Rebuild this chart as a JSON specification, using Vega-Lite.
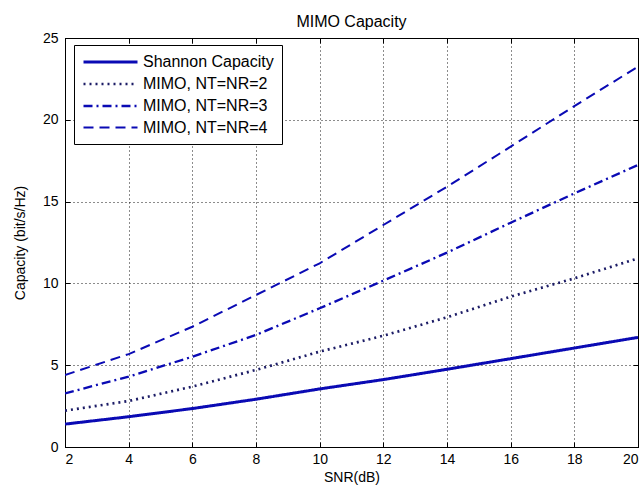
{
  "$schema": "https://vega.github.io/schema/vega-lite/v6.json",
  "autosize": "none",
  "width": 573,
  "height": 409,
  "padding": {"left": 65, "top": 38, "right": 6, "bottom": 42},
  "background": "white",
  "title": {"text": "MIMO Capacity", "font": "Liberation Sans", "fontSize": 16, "fontWeight": "normal", "color": "#000000", "offset": 1},
  "data": {
    "values": [
      {"snr": 2, "cap": 1.40, "series": "Shannon Capacity"},
      {"snr": 4, "cap": 1.85, "series": "Shannon Capacity"},
      {"snr": 6, "cap": 2.35, "series": "Shannon Capacity"},
      {"snr": 8, "cap": 2.92, "series": "Shannon Capacity"},
      {"snr": 10, "cap": 3.55, "series": "Shannon Capacity"},
      {"snr": 12, "cap": 4.12, "series": "Shannon Capacity"},
      {"snr": 14, "cap": 4.75, "series": "Shannon Capacity"},
      {"snr": 16, "cap": 5.40, "series": "Shannon Capacity"},
      {"snr": 18, "cap": 6.05, "series": "Shannon Capacity"},
      {"snr": 20, "cap": 6.70, "series": "Shannon Capacity"},
      {"snr": 2, "cap": 2.22, "series": "MIMO, NT=NR=2"},
      {"snr": 4, "cap": 2.81, "series": "MIMO, NT=NR=2"},
      {"snr": 6, "cap": 3.69, "series": "MIMO, NT=NR=2"},
      {"snr": 8, "cap": 4.71, "series": "MIMO, NT=NR=2"},
      {"snr": 10, "cap": 5.83, "series": "MIMO, NT=NR=2"},
      {"snr": 12, "cap": 6.80, "series": "MIMO, NT=NR=2"},
      {"snr": 14, "cap": 7.93, "series": "MIMO, NT=NR=2"},
      {"snr": 16, "cap": 9.19, "series": "MIMO, NT=NR=2"},
      {"snr": 18, "cap": 10.31, "series": "MIMO, NT=NR=2"},
      {"snr": 20, "cap": 11.53, "series": "MIMO, NT=NR=2"},
      {"snr": 2, "cap": 3.28, "series": "MIMO, NT=NR=3"},
      {"snr": 4, "cap": 4.30, "series": "MIMO, NT=NR=3"},
      {"snr": 6, "cap": 5.52, "series": "MIMO, NT=NR=3"},
      {"snr": 8, "cap": 6.85, "series": "MIMO, NT=NR=3"},
      {"snr": 10, "cap": 8.48, "series": "MIMO, NT=NR=3"},
      {"snr": 12, "cap": 10.17, "series": "MIMO, NT=NR=3"},
      {"snr": 14, "cap": 11.88, "series": "MIMO, NT=NR=3"},
      {"snr": 16, "cap": 13.71, "series": "MIMO, NT=NR=3"},
      {"snr": 18, "cap": 15.50, "series": "MIMO, NT=NR=3"},
      {"snr": 20, "cap": 17.24, "series": "MIMO, NT=NR=3"},
      {"snr": 2, "cap": 4.40, "series": "MIMO, NT=NR=4"},
      {"snr": 4, "cap": 5.68, "series": "MIMO, NT=NR=4"},
      {"snr": 6, "cap": 7.35, "series": "MIMO, NT=NR=4"},
      {"snr": 8, "cap": 9.29, "series": "MIMO, NT=NR=4"},
      {"snr": 10, "cap": 11.23, "series": "MIMO, NT=NR=4"},
      {"snr": 12, "cap": 13.57, "series": "MIMO, NT=NR=4"},
      {"snr": 14, "cap": 15.91, "series": "MIMO, NT=NR=4"},
      {"snr": 16, "cap": 18.36, "series": "MIMO, NT=NR=4"},
      {"snr": 18, "cap": 20.84, "series": "MIMO, NT=NR=4"},
      {"snr": 20, "cap": 23.25, "series": "MIMO, NT=NR=4"}
    ]
  },
  "layer": [
    {
      "mark": {"type": "line", "strokeCap": "butt", "clip": true},
      "encoding": {
        "x": {
          "field": "snr", "type": "quantitative",
          "scale": {"domain": [2, 20], "nice": false, "zero": false},
          "axis": {"orient": "bottom", "values": [2, 4, 6, 8, 10, 12, 14, 16, 18, 20], "title": "SNR(dB)", "grid": true, "labelPadding": 10, "titlePadding": 4}
        },
        "y": {
          "field": "cap", "type": "quantitative",
          "scale": {"domain": [0, 25], "nice": false, "zero": true},
          "axis": {"orient": "left", "values": [0, 5, 10, 15, 20, 25], "title": "Capacity (bit/s/Hz)", "grid": true, "labelPadding": 12, "titlePadding": 15}
        },
        "color": {
          "field": "series", "type": "nominal",
          "scale": {"domain": ["Shannon Capacity", "MIMO, NT=NR=2", "MIMO, NT=NR=3", "MIMO, NT=NR=4"], "range": ["#0a0ab4", "#1c1c66", "#0a0ab4", "#0a0ab4"]},
          "legend": {"title": null}
        },
        "strokeDash": {
          "field": "series", "type": "nominal",
          "scale": {"domain": ["Shannon Capacity", "MIMO, NT=NR=2", "MIMO, NT=NR=3", "MIMO, NT=NR=4"], "range": [[1, 0], [2, 4], [9, 4, 2, 4], [10, 6]]},
          "legend": {"title": null}
        },
        "strokeWidth": {
          "field": "series", "type": "nominal",
          "scale": {"domain": ["Shannon Capacity", "MIMO, NT=NR=2", "MIMO, NT=NR=3", "MIMO, NT=NR=4"], "range": [3, 2, 2, 2.5]},
          "legend": {"title": null}
        }
      }
    },
    {
      "mark": {"type": "line", "opacity": 0},
      "encoding": {
        "x": {
          "field": "snr", "type": "quantitative",
          "axis": {"orient": "top", "values": [2, 4, 6, 8, 10, 12, 14, 16, 18, 20], "title": null, "labels": false, "grid": false}
        },
        "y": {
          "field": "cap", "type": "quantitative",
          "axis": {"orient": "right", "values": [0, 5, 10, 15, 20, 25], "title": null, "labels": false, "grid": false}
        },
        "detail": {"field": "series", "type": "nominal"}
      }
    }
  ],
  "resolve": {"axis": {"x": "independent", "y": "independent"}},
  "config": {
    "font": "Liberation Sans",
    "view": {"stroke": "#000000", "strokeWidth": 1},
    "axis": {
      "domainColor": "#000000",
      "tickColor": "#000000",
      "tickSize": -5,
      "labelFont": "Liberation Sans",
      "labelFontSize": 14,
      "labelColor": "#000000",
      "titleFont": "Liberation Sans",
      "titleFontSize": 14,
      "titleFontWeight": "normal",
      "titleColor": "#000000",
      "gridColor": "#000000",
      "gridDash": [1, 3],
      "gridOpacity": 0.9,
      "gridWidth": 1
    },
    "legend": {
      "orient": "none",
      "legendX": 9,
      "legendY": 7,
      "padding": 8,
      "strokeColor": "#000000",
      "fillColor": "#ffffff",
      "symbolType": "M-1,0H6.2",
      "symbolSize": 225,
      "labelFont": "Liberation Sans",
      "labelFontSize": 16,
      "labelColor": "#000000",
      "labelOffset": 43,
      "rowPadding": 5
    }
  }
}
